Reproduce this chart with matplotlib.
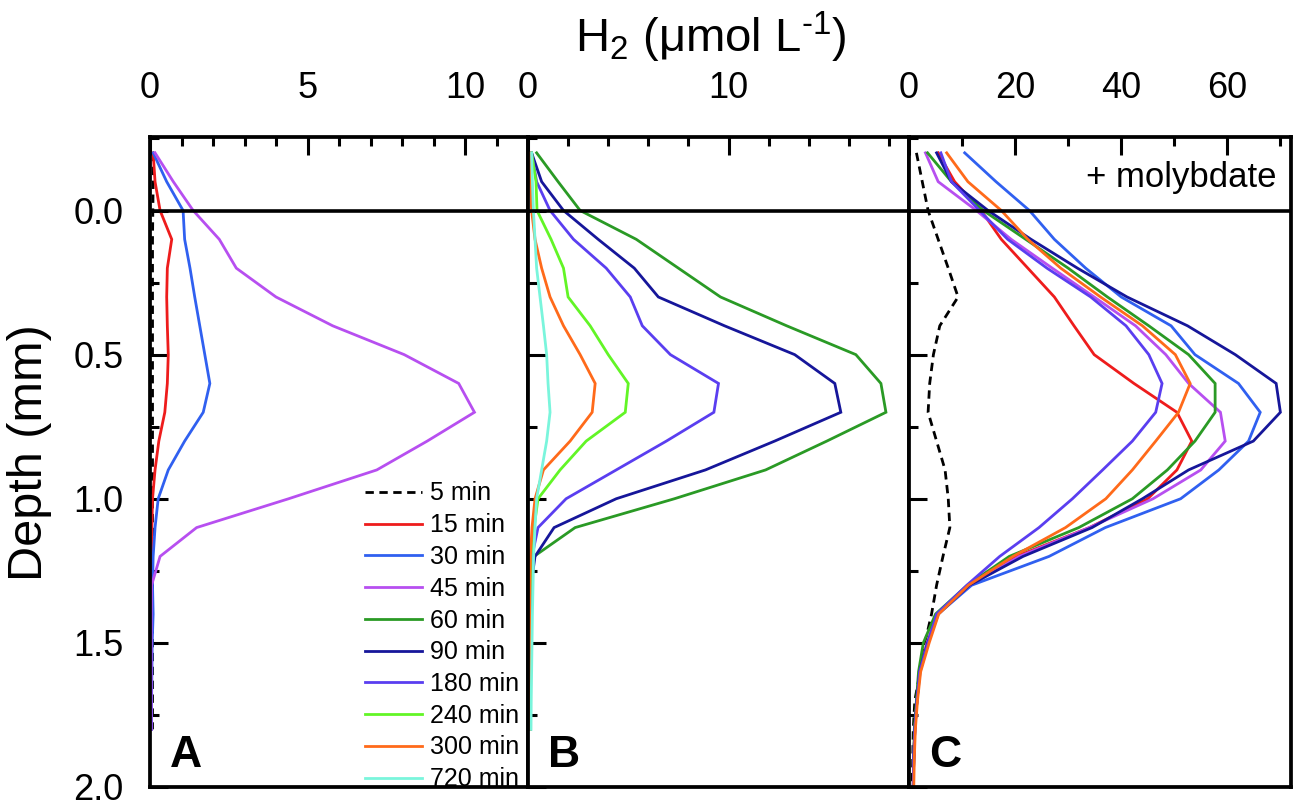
#!/usr/bin/env python3
# -*- coding: utf-8 -*-
"""
    H2 depth profiles, three panels (A, B, C + molybdate).
"""

import matplotlib
matplotlib.use('Agg')
import matplotlib.pyplot as plt
from matplotlib.ticker import MultipleLocator, FormatStrFormatter, FixedLocator

plt.rcParams['font.family'] = ['Liberation Sans', 'DejaVu Sans']
plt.rcParams['mathtext.fontset'] = 'custom'
plt.rcParams['mathtext.rm'] = 'Liberation Sans'

# depth grid (mm) of the profiles
depth_ab = [-0.2, -0.1, 0.0, 0.1, 0.2, 0.3, 0.4, 0.5, 0.6, 0.7, 0.8, 0.9,
            1.0, 1.1, 1.2, 1.3, 1.4, 1.5, 1.6, 1.7, 1.8]
depth_c = [-0.2, -0.1, 0.0, 0.1, 0.2, 0.3, 0.4, 0.5, 0.6, 0.7, 0.8, 0.9,
           1.0, 1.1, 1.2, 1.3, 1.4, 1.5, 1.6, 1.7, 1.8, 1.9, 2.0]

# panel A
a_5 = [0.1, 0.1, 0.09, 0.08, 0.08, 0.08, 0.08, 0.08, 0.08, 0.08, 0.08, 0.08,
       0.08, 0.08, 0.08, 0.08, 0.08, 0.08, 0.08, 0.08, 0.08]
a_15 = [0.1, 0.16, 0.32, 0.69, 0.55, 0.53, 0.55, 0.58, 0.55, 0.47, 0.28, 0.16,
        0.08, 0.06, 0.05, 0.05, 0.04, 0.04, 0.04, 0.04, 0.04]
a_30 = [0.1, 0.53, 1.05, 1.1, 1.27, 1.42, 1.58, 1.74, 1.9, 1.69, 1.1, 0.58,
        0.26, 0.16, 0.1, 0.08, 0.1, 0.07, 0.06, 0.05, 0.05]
a_45 = [0.16, 0.74, 1.37, 2.2, 2.74, 4.0, 5.8, 8.07, 9.8, 10.3, 8.8, 7.2,
        4.4, 1.48, 0.32, 0.05, 0.04, 0.04, 0.04, 0.04, 0.04]

# panel B
b_60 = [0.43, 1.5, 2.6, 5.4, 7.5, 9.6, 12.9, 16.35, 17.6, 17.85, 14.9, 11.85,
        7.3, 2.35, 0.3, 0.15, 0.12, 0.1, 0.1, 0.1, 0.1]
b_90 = [0.18, 0.68, 1.77, 3.5, 5.3, 6.5, 9.8, 13.3, 15.3, 15.6, 12.3, 8.85,
        4.4, 1.3, 0.35, 0.15, 0.12, 0.1, 0.1, 0.1, 0.1]
b_180 = [0.18, 0.43, 1.1, 2.27, 3.9, 5.1, 5.7, 7.1, 9.5, 9.27, 6.9, 4.4,
         1.9, 0.5, 0.2, 0.12, 0.1, 0.1, 0.1, 0.1, 0.1]
b_240 = [0.18, 0.4, 0.45, 1.15, 1.77, 2.0, 3.1, 4.0, 5.0, 4.85, 2.9, 1.6,
         0.5, 0.3, 0.15, 0.12, 0.1, 0.1, 0.1, 0.1, 0.1]
b_300 = [0.1, 0.12, 0.18, 0.35, 0.68, 1.1, 1.77, 2.6, 3.35, 3.2, 2.1, 0.77,
         0.35, 0.2, 0.12, 0.1, 0.08, 0.08, 0.08, 0.08, 0.08]
b_720 = [0.18, 0.22, 0.27, 0.35, 0.43, 0.6, 0.77, 0.93, 1.0, 1.1, 0.93, 0.68,
         0.43, 0.35, 0.28, 0.25, 0.22, 0.2, 0.18, 0.16, 0.15]

# panel C (+ molybdate)
c_5 = [1.4, 2.5, 3.6, 5.5, 7.4, 9.25, 5.8, 4.6, 3.9, 3.6, 5.2, 6.8,
       7.4, 7.7, 6.4, 5.2, 4.25, 3.0, 2.1, 1.1, 0.8, 0.7, 0.6]
c_15 = [5.5, 8.6, 13.6, 17.4, 22.4, 27.4, 31.1, 34.9, 42.4, 50.5, 53.3, 50.5,
        45.0, 34.0, 20.2, 11.4, 5.3, 3.4, 2.0, 1.5, 1.1, 0.9, 0.8]
c_30 = [10.5, 16.4, 22.7, 27.4, 33.3, 40.0, 49.4, 53.9, 62.1, 66.2, 64.0, 58.4,
        51.2, 37.0, 26.4, 11.8, 5.5, 3.6, 2.1, 1.5, 1.1, 0.9, 0.8]
c_45 = [3.1, 5.5, 12.7, 19.25, 27.0, 34.9, 42.7, 48.4, 52.7, 58.7, 59.6, 55.0,
        46.0, 34.0, 20.8, 11.4, 5.3, 3.4, 2.0, 1.5, 1.1, 0.9, 0.8]
c_60 = [3.5, 8.0, 14.0, 22.0, 30.0, 37.4, 45.2, 52.7, 57.7, 57.7, 53.9, 48.7,
        42.1, 32.0, 18.9, 11.0, 5.0, 2.7, 1.8, 1.4, 1.0, 0.9, 0.8]
c_90 = [5.2, 8.0, 14.9, 23.0, 31.75, 41.1, 52.5, 61.5, 69.2, 70.0, 64.9, 52.7,
        44.0, 34.5, 21.5, 11.4, 5.5, 3.5, 2.0, 1.5, 1.1, 0.9, 0.8]
c_180 = [6.0, 8.0, 13.3, 18.6, 26.0, 34.25, 40.9, 45.2, 47.7, 46.5, 42.1, 36.5,
         30.8, 24.5, 17.1, 10.9, 5.2, 3.6, 2.0, 1.5, 1.1, 0.9, 0.8]
c_300 = [7.1, 11.1, 17.4, 22.4, 28.6, 36.1, 44.0, 50.2, 53.0, 50.8, 46.5, 42.1,
         37.1, 29.5, 19.6, 11.2, 5.6, 3.8, 2.2, 1.6, 1.2, 1.0, 0.9]

labels = {5: '5 min', 15: '15 min', 30: '30 min', 45: '45 min', 60: '60 min',
          90: '90 min', 180: '180 min', 240: '240 min', 300: '300 min',
          720: '720 min'}
colors = {5: 'black', 15: '#ee1c1c', 30: '#3060f0', 45: '#b74ff0',
          60: '#2a9a25', 90: '#16169a', 180: '#5a3ef0', 240: '#62f526',
          300: '#ff6a1a', 720: '#7af5dc'}

LW = 2.0
SPINE_W = 2.7


def draw_profile(ax, t, values, depth):
    '''
        One concentration profile (value vs depth), 5 min is dashed.
    '''
    if t == 5:
        ls = (0, (3, 2))
    else:
        ls = '-'
    line, = ax.plot(values, depth, color=colors[t], lw=LW, ls=ls,
                    label=labels[t], solid_joinstyle='miter')
    return line


def style_axes(ax, xmax, major, minor, show_ylabels):
    ax.set_xlim(0, xmax)
    ax.set_ylim(2.0, -0.255)
    ax.xaxis.set_major_locator(FixedLocator(major))
    ax.xaxis.set_minor_locator(MultipleLocator(minor))
    ax.yaxis.set_major_locator(MultipleLocator(0.5))
    ax.yaxis.set_minor_locator(MultipleLocator(0.25))
    ax.yaxis.set_major_formatter(FormatStrFormatter('%.1f'))
    ax.tick_params(which='both', direction='in', top=True, bottom=False,
                   left=True, right=False, labeltop=True, labelbottom=False,
                   labelleft=show_ylabels, width=2.2, labelsize=26)
    ax.tick_params(which='major', length=13)
    ax.tick_params(which='minor', length=6.5)
    ax.tick_params(axis='x', pad=22)
    ax.tick_params(axis='y', pad=19)
    for sp in ax.spines.values():
        sp.set_linewidth(SPINE_W)
    # sediment surface
    ax.axhline(0.0, color='black', lw=2.6, zorder=3)


fig = plt.figure(figsize=(13.01, 8.09), dpi=100)
bottom = 22 / 809
height = 650 / 809
axA = fig.add_axes([150 / 1301, bottom, 378 / 1301, height])
axB = fig.add_axes([528 / 1301, bottom, 381 / 1301, height])
axC = fig.add_axes([909 / 1301, bottom, 382 / 1301, height])

handles = []
for t, vals in [(5, a_5), (15, a_15), (30, a_30), (45, a_45)]:
    handles.append(draw_profile(axA, t, vals, depth_ab))
for t, vals in [(60, b_60), (90, b_90), (180, b_180), (240, b_240),
                (300, b_300), (720, b_720)]:
    handles.append(draw_profile(axB, t, vals, depth_ab))
for t, vals in [(5, c_5), (15, c_15), (30, c_30), (45, c_45), (60, c_60),
                (90, c_90), (180, c_180), (300, c_300)]:
    draw_profile(axC, t, vals, depth_c)

style_axes(axA, 12, [0, 5, 10], 1, True)
style_axes(axB, 19, [0, 10], 2, False)
style_axes(axC, 72, [0, 20, 40, 60], 10, False)

# panel letters
for ax, letter in [(axA, 'A'), (axB, 'B'), (axC, 'C')]:
    ax.text(0.053, 0.031, letter, transform=ax.transAxes, fontsize=32,
            fontweight='bold', ha='left', va='baseline')

axC.text(0.963, 0.923, '+ molybdate', transform=axC.transAxes, fontsize=25,
         ha='right', va='baseline')

leg = axA.legend(handles=handles, loc='upper left',
                 bbox_to_anchor=(0.568, 0.47), frameon=False, fontsize=18,
                 handlelength=2.3, handletextpad=0.3, labelspacing=0.31,
                 borderpad=0, borderaxespad=0)

fig.text(0.546, 1 - 52 / 809,
         r'H$_\mathregular{2}$ (μmol L$^{\text{-1}}$)',
         fontsize=34, ha='center', va='baseline')
fig.text(0.023, 0.44, 'Depth (mm)', fontsize=35, rotation=90,
         ha='center', va='center')

fig.savefig('out.png', dpi=100)
